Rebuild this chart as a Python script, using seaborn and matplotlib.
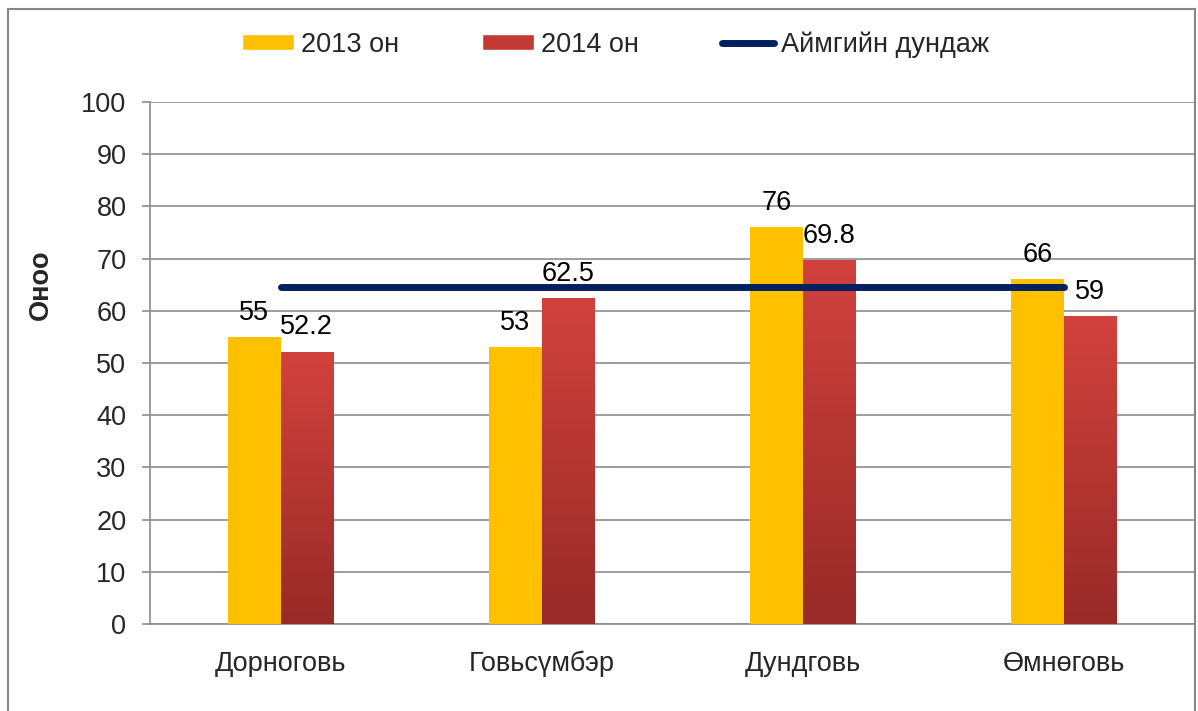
import matplotlib
matplotlib.use('Agg')
import matplotlib.pyplot as plt
import numpy as np
import pandas as pd
import seaborn as sns
from matplotlib.colors import LinearSegmentedColormap
from matplotlib.lines import Line2D
from matplotlib.patches import Patch, Rectangle

# values
aimags = ['Дорноговь', 'Говьсүмбэр', 'Дундговь', 'Өмнөговь']
score_2013 = [55, 53, 76, 66]
score_2014 = [52.2, 62.5, 69.8, 59]
aimag_avg = [64.6, 64.6, 64.6, 64.6]
years = ['2013 он', '2014 он']
avg_label = 'Аймгийн дундаж'

df = pd.DataFrame({
    'aimag': aimags * 2,
    'score': score_2013 + score_2014,
    'year': [years[0]] * 4 + [years[1]] * 4,
})

sns.set_style('white')
plt.rcParams['font.family'] = ['Liberation Sans', 'DejaVu Sans']
FS = 19.5

fig = plt.figure(figsize=(11.98, 7.11), dpi=100)
ax = fig.add_axes([150 / 1198, 1 - 624 / 711, 1044 / 1198, 522 / 711])

sns.barplot(data=df, x='aimag', y='score', hue='year', order=aimags,
            hue_order=years, palette={years[0]: '#FFC000', years[1]: '#C0392F'},
            width=0.4, saturation=1, legend=False, ax=ax, zorder=3,
            linewidth=0, edgecolor='none')

# red bars get a vertical gradient (light top -> dark bottom)
red_cmap = LinearSegmentedColormap.from_list('red_grad', ['#D2423D', '#982A27'])
grad = np.linspace(0, 1, 256).reshape(-1, 1)
for bar in ax.containers[1]:
    x0, y0 = bar.get_x(), bar.get_y()
    w, h = bar.get_width(), bar.get_height()
    bar.set_facecolor('none')
    im = ax.imshow(grad, cmap=red_cmap, aspect='auto', origin='upper',
                   extent=[x0, x0 + w, y0, y0 + h], zorder=3)
    im.set_clip_path(bar)

# data labels
for cont in ax.containers:
    ax.bar_label(cont, labels=[f'{v:g}' for v in cont.datavalues],
                 padding=8, fontsize=FS, color='black', zorder=5)

# average line
ax.plot(aimags, aimag_avg, color='#002060', lw=5, solid_capstyle='round', zorder=4)

ax.set_xlim(-0.5, 3.5)
ax.set_ylim(0, 100)
ax.set_yticks(range(0, 101, 10))
ax.set_aspect('auto')
ax.grid(axis='y', color='#8C8C8C', lw=1.2, zorder=0)
ax.set_axisbelow(True)
for side in ['top', 'right']:
    ax.spines[side].set_visible(False)
for side in ['left', 'bottom']:
    ax.spines[side].set_color('#8C8C8C')
    ax.spines[side].set_linewidth(1.2)

ax.tick_params(axis='y', length=6, width=1.2, color='#8C8C8C', pad=11,
               labelsize=FS, left=True)
ax.tick_params(axis='x', length=0, pad=34, labelsize=FS)
for lbl in ax.get_xticklabels():
    lbl.set_verticalalignment('baseline')
ax.set_xlabel('')
ax.set_ylabel('Оноо', fontsize=FS, fontweight='bold')
ax.yaxis.set_label_coords(-0.092, 0.65)

handles = [Patch(facecolor='#FFC000'), Patch(facecolor='#C23A33'),
           Line2D([0], [0], color='#002060', lw=5, solid_capstyle='round')]
fig.legend(handles, years + [avg_label], loc='center', ncol=3,
           bbox_to_anchor=(0.514, 1 - 44.5 / 711), frameon=False, fontsize=FS,
           handlelength=1.93, handleheight=0.55, handletextpad=0.26,
           columnspacing=3.05)

# outer chart border
fig.patches.append(Rectangle((8 / 1198, -0.02), 1187 / 1198, 1 - 9 / 711 + 0.02,
                             transform=fig.transFigure, fill=False,
                             edgecolor='#868686', lw=1.5))

fig.savefig('out.png', dpi=100)
